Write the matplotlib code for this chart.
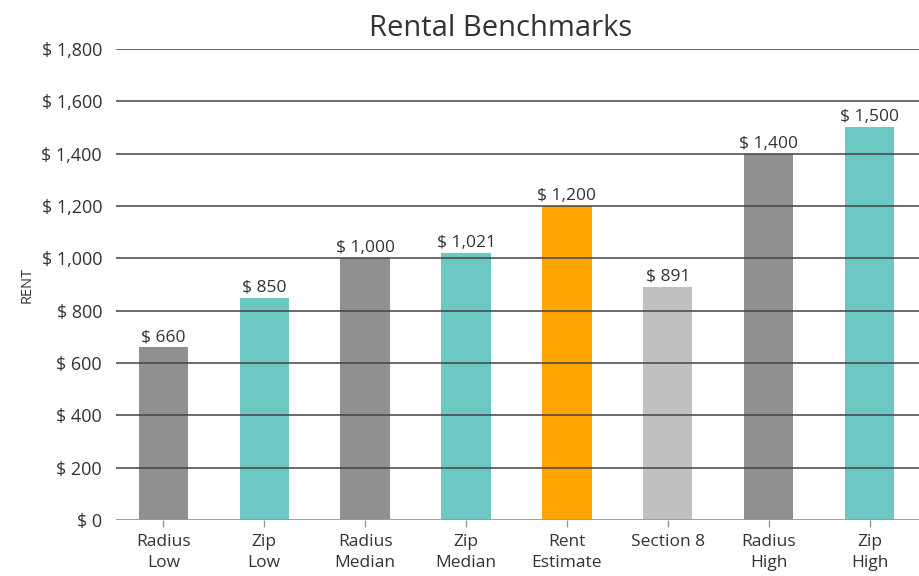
import numpy as np
import matplotlib
matplotlib.use('Agg')
import matplotlib.pyplot as plt

labels = ['Radius\nLow', 'Zip\nLow', 'Radius\nMedian', 'Zip\nMedian',
          'Rent\nEstimate', 'Section 8', 'Radius\nHigh', 'Zip\nHigh']
rents = [660, 850, 1000, 1021, 1200, 891, 1400, 1500]
colors = ['#8e9190', '#6cc8c3', '#8e9190', '#6cc8c3',
          '#ffa400', '#c0c0c0', '#8e9190', '#6cc8c3']
yticks = [0, 200, 400, 600, 800, 1000, 1200, 1400, 1600, 1800]

plt.rcParams['font.family'] = ['Open Sans', 'DejaVu Sans']

fig = plt.figure(figsize=(9.2, 5.76), dpi=100)
ax = fig.add_axes([0.126, 0.097, 0.874, 0.818])

x = np.arange(len(rents))
ax.bar(x, rents, width=0.49, color=colors, zorder=1)

for xi, v in zip(x, rents):
    ax.text(xi, v + 8, '$ {:,}'.format(v), ha='center', va='bottom',
            fontsize=12.5, color='#333333', zorder=3)

# grid lines on top of the bars
for t in yticks[1:]:
    ax.axhline(t, color='#444444', lw=1.3, alpha=0.85, zorder=2)
ax.axhline(0, color='#999999', lw=1.3, zorder=2)

ax.set_xlim(-0.47, 7.5)
ax.set_ylim(0, 1800)
ax.set_yticks(yticks)
ax.set_yticklabels(['$ {:,}'.format(t) for t in yticks])
ax.set_xticks(x)
ax.set_xticklabels(labels, linespacing=1.4)

for s in ax.spines.values():
    s.set_visible(False)

ax.tick_params(axis='y', length=0, pad=10, labelsize=13, labelcolor='#333333')
ax.tick_params(axis='x', length=5, width=1, color='#999999', pad=5,
               labelsize=12.5, labelcolor='#333333')

ax.set_ylabel('RENT', fontsize=10.5, color='#333333', labelpad=5)
ax.set_title('Rental Benchmarks', fontsize=21, color='#333333', x=0.478, pad=9)

fig.savefig('out.png', dpi=100)
